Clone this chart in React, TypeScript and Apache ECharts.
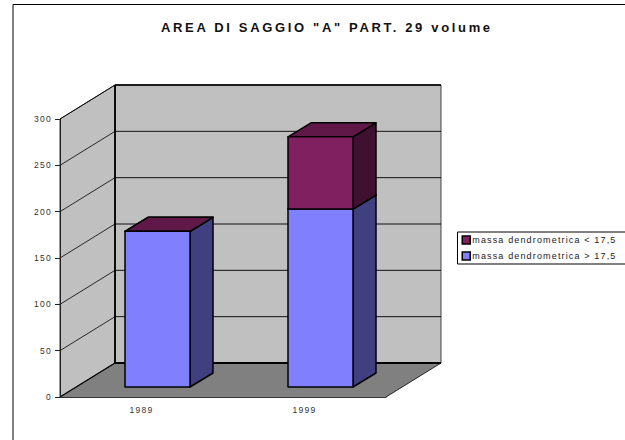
import React, { useEffect, useRef } from "react";
import * as echarts from "echarts";

const categories = ["1989", "1999"];
const seriesBelowName = "massa dendrometrica > 17,5";
const seriesAboveName = "massa dendrometrica < 17,5";
const massBelow = [168, 192];
const massAbove = [0, 78];
const gridTicks = [50, 100, 150, 200, 250, 300];

const FONT = '"Liberation Sans", Arial, sans-serif';
const WALL_DX = 55;
const WALL_DY = -34;
const BAR_FRONT = { dx: 16, dy: -10 };
const BAR_BACK = { dx: 39, dy: -24 };
const BAR_HALF = 32.5;

function shift(p: number[], d: number[]) {
  return [p[0] + d[0], p[1] + d[1]];
}

function barRenderer(front: string, side: string, top: string) {
  return (_params: any, api: any) => {
    const center = api.coord([api.value(0), api.value(1)]);
    const upper = api.coord([api.value(0), api.value(2)]);
    const xl = center[0] + BAR_FRONT.dx - BAR_HALF;
    const xr = center[0] + BAR_FRONT.dx + BAR_HALF;
    const yb = center[1] + BAR_FRONT.dy;
    const yt = upper[1] + BAR_FRONT.dy;
    const ox = BAR_BACK.dx - BAR_FRONT.dx;
    const oy = BAR_BACK.dy - BAR_FRONT.dy;
    const line = { stroke: "#000", lineWidth: 1.5, lineJoin: "round" };
    return {
      type: "group",
      children: [
        {
          type: "polygon",
          shape: { points: [[xr, yb], [xr, yt], [xr + ox, yt + oy], [xr + ox, yb + oy]] },
          style: { fill: side, ...line },
        },
        {
          type: "polygon",
          shape: { points: [[xl, yt], [xr, yt], [xr + ox, yt + oy], [xl + ox, yt + oy]] },
          style: { fill: top, ...line },
        },
        {
          type: "polygon",
          shape: { points: [[xl, yb], [xr, yb], [xr, yt], [xl, yt]] },
          style: { fill: front, ...line },
        },
      ],
    };
  };
}

function wallsRenderer(_params: any, api: any) {
  const maxV = gridTicks[gridTicks.length - 1];
  const a = api.coord([0, 0]);
  const b = api.coord([1, 0]);
  const step = b[0] - a[0];
  const fl = [a[0] - step / 2, a[1]];
  const fr = [b[0] + step / 2, b[1]];
  const tl = [fl[0], api.coord([0, maxV])[1]];
  const tr = [fr[0], tl[1]];
  const d = [WALL_DX, WALL_DY];
  return {
    type: "group",
    children: [
      {
        type: "polygon",
        shape: { points: [shift(fl, d), shift(fr, d), shift(tr, d), shift(tl, d)] },
        style: { fill: "#c0c0c0" },
      },
      {
        type: "polygon",
        shape: { points: [fl, tl, shift(tl, d), shift(fl, d)] },
        style: { fill: "#c0c0c0", stroke: "#000", lineWidth: 0.8 },
      },
      {
        type: "polygon",
        shape: { points: [fl, fr, shift(fr, d), shift(fl, d)] },
        style: { fill: "#808080" },
      },
      {
        type: "line",
        shape: { x1: fr[0], y1: fr[1], x2: fr[0] + d[0], y2: fr[1] + d[1] },
        style: { stroke: "#000", lineWidth: 0.8 },
      },
      {
        type: "line",
        shape: { x1: fl[0], y1: fl[1], x2: fl[0] + d[0], y2: fl[1] + d[1] },
        style: { stroke: "#000", lineWidth: 1.2 },
      },
      {
        type: "line",
        shape: { x1: tr[0] + d[0], y1: tr[1] + d[1], x2: fr[0] + d[0], y2: fr[1] + d[1] },
        style: { stroke: "#444", lineWidth: 1 },
      },
    ],
  };
}

function gridRenderer(_params: any, api: any) {
  const a = api.coord([0, api.value(1)]);
  const b = api.coord([1, api.value(1)]);
  const step = b[0] - a[0];
  const x0 = a[0] - step / 2;
  const x1 = b[0] + step / 2;
  const y = a[1];
  return {
    type: "group",
    children: [
      {
        type: "line",
        shape: { x1: x0, y1: y, x2: x0 + WALL_DX, y2: y + WALL_DY },
        style: { stroke: "#000", lineWidth: 0.8 },
      },
      {
        type: "line",
        shape: { x1: x0 + WALL_DX, y1: y + WALL_DY, x2: x1 + WALL_DX, y2: y + WALL_DY },
        style: { stroke: "#111", lineWidth: 1 },
      },
    ],
  };
}

function wallEdgesRenderer(_params: any, api: any) {
  const maxV = gridTicks[gridTicks.length - 1];
  const a = api.coord([0, 0]);
  const b = api.coord([1, 0]);
  const step = b[0] - a[0];
  const xl = a[0] - step / 2 + WALL_DX;
  const xr = b[0] + step / 2 + WALL_DX;
  const yb = a[1] + WALL_DY;
  const yt = api.coord([0, maxV])[1] + WALL_DY;
  return {
    type: "group",
    children: [
      { type: "line", shape: { x1: xl, y1: yb, x2: xl, y2: yt }, style: { stroke: "#000", lineWidth: 1.8 } },
      { type: "line", shape: { x1: xl, y1: yb, x2: xr, y2: yb }, style: { stroke: "#000", lineWidth: 1.8 } },
      { type: "line", shape: { x1: xl, y1: yt, x2: xr, y2: yt }, style: { stroke: "#000", lineWidth: 1.3 } },
    ],
  };
}

export default function App() {
  const ref = useRef<HTMLDivElement>(null);
  useEffect(() => {
    const chart = echarts.init(ref.current!, undefined, { renderer: "svg" });
    chart.setOption({
      animation: false,
      backgroundColor: "#fff",
      textStyle: { fontFamily: FONT },
      title: {
        text: 'AREA DI SAGGIO "A" PART. 29 volume',
        left: 161,
        top: 21,
        padding: 0,
        textStyle: { fontFamily: FONT, fontWeight: "bold", fontSize: 13, color: "#111" },
      },
      legend: {
        orient: "vertical",
        left: 457.5,
        top: 232,
        padding: [2.5, 4, 2.5, 4],
        itemGap: 5,
        itemWidth: 8,
        itemHeight: 8,
        icon: "rect",
        selectedMode: false,
        borderWidth: 0,
        data: [seriesAboveName, seriesBelowName],
        itemStyle: { borderColor: "#000", borderWidth: 1.5 },
        textStyle: { fontFamily: FONT, fontSize: 9, color: "#222", padding: [0, 0, 0, -3], lineHeight: 11 },
      },
      grid: { left: 60, top: 119, width: 326, height: 278 },
      xAxis: {
        type: "category",
        data: categories,
        z: 6,
        axisLine: { lineStyle: { color: "#333", width: 1 } },
        axisTick: { length: 5, lineStyle: { color: "#222" } },
        axisLabel: { fontFamily: FONT, fontSize: 8.5, color: "#333", margin: 8 },
      },
      yAxis: {
        type: "value",
        min: 0,
        max: 300,
        interval: 50,
        z: 6,
        splitLine: { show: false },
        axisLine: { show: true, lineStyle: { color: "#222", width: 1 } },
        axisTick: { show: true, length: 5, lineStyle: { color: "#222" } },
        axisLabel: { fontFamily: FONT, fontSize: 8.5, color: "#333", margin: 8 },
      },
      graphic: [
        {
          type: "polyline",
          silent: true,
          shape: { points: [[13, 440], [13, 4.5], [625, 4.5]] },
          style: { fill: "none", stroke: "#000", lineWidth: 1 },
        },
        {
          type: "polyline",
          silent: true,
          shape: { points: [[625, 232], [457.5, 232], [457.5, 264], [625, 264]] },
          style: { fill: "none", stroke: "#000", lineWidth: 1 },
        },
      ],
      series: [
        { type: "custom", name: "walls", z: 1, silent: true, renderItem: wallsRenderer, data: [[0, 0]] },
        { type: "custom", name: "gridlines", z: 2, silent: true, renderItem: gridRenderer, data: gridTicks.map((t) => [0, t]) },
        { type: "custom", name: "wallEdges", z: 3, silent: true, renderItem: wallEdgesRenderer, data: [[0, 0]] },
        {
          type: "custom",
          name: seriesBelowName,
          z: 4,
          silent: true,
          itemStyle: { color: "#8080ff" },
          renderItem: barRenderer("#8080ff", "#404080", "#8080ff"),
          data: massBelow.map((v, i) => [i, 0, v]),
        },
        {
          type: "custom",
          name: seriesAboveName,
          z: 5,
          silent: true,
          itemStyle: { color: "#802060" },
          renderItem: barRenderer("#802060", "#401030", "#601848"),
          data: massAbove.map((v, i) => [i, massBelow[i], massBelow[i] + v]),
        },
      ],
    });
    return () => chart.dispose();
  }, []);
  return (
    <>
      <style>{`
        body { margin: 0; background: #fff; }
        #chart text { letter-spacing: 1.3px; }
        #chart text[style*="9px"] { letter-spacing: 1.15px; }
        #chart text[style*="bold"] { letter-spacing: 2.66px; }
      `}</style>
      <div id="chart" ref={ref} style={{ position: "fixed", left: 0, top: 0, width: 625, height: 440 }} />
    </>
  );
}
